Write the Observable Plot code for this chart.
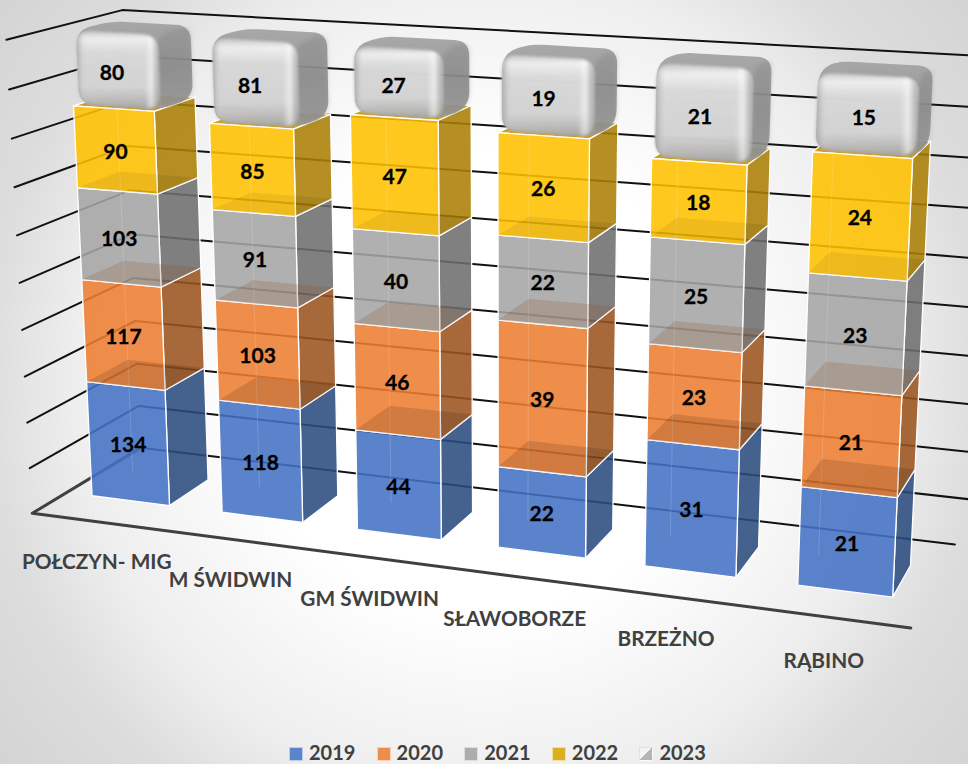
<!DOCTYPE html>
<html><head><meta charset="utf-8">
<script src="https://cdn.jsdelivr.net/npm/d3@7"></script>
<script src="https://cdn.jsdelivr.net/npm/@observablehq/plot@0.6"></script>
<style>
html,body{margin:0;padding:0;width:968px;height:764px;overflow:hidden;
background:radial-gradient(circle 640px at 484px 382px,#fff 0,#fff 36%,#eeeeee 64%,#dddddd 78%,#d2d2d2 100%);}
#legend{position:absolute;left:289px;top:740px;height:24px;display:flex;font:700 20px Lato,sans-serif;color:#404040;line-height:24px;}
#legend div{width:87.6px;display:flex;align-items:center;white-space:nowrap;}
#legend i{display:block;width:12px;height:12px;margin:4px 6px 0 0;border:1px solid rgba(255,255,255,.6);}
</style></head><body>
<div id="chart"></div><div id="legend"></div>
<script>
const categories=["POŁCZYN- MIG","M ŚWIDWIN","GM ŚWIDWIN","SŁAWOBORZE","BRZEŻNO","RĄBINO"];
const years=["2019","2020","2021","2022","2023"];
const v2019=[134,118,44,22,31,21];
const v2020=[117,103,46,39,23,21];
const v2021=[103,91,40,22,25,23];
const v2022=[90,85,47,26,18,24];
const v2023=[80,81,27,19,21,15];
const seriesValues=[v2019,v2020,v2021,v2022,v2023];
const frontColors=["#4472c4","#ed7d31","#a5a5a5","#ffc000"];
const sideColors=["#2b4c80","#9b531f","#6e6e6e","#ab8004"];
const legendColors=["#5b84cb","#ef8d4f","#adadad","#dcaf20","linear-gradient(135deg,#f4f4f4 0 50%,#b5b5b5 50% 100%)"];
const ticks=d3.range(0,1.01,0.1);

// 100% stacked boundaries per category
const stacks=categories.map((_,i)=>{
  const total=d3.sum(seriesValues,s=>s[i]);let c=0;
  return [0,...seriesValues.map(s=>(c+=s[i])/total)];
});

// Camera calibration: the chart's 3D box and column corners as seen in the picture.
const boxAnchors=[[0,0,0,32,513],[0,1,0,6,39],[0,0,1,140,446],[0,1,1,120,10],[6,0,1,953,545],[6,1,1,980,54],[6,0,0,910,628]];
// [column, stack boundary, front-left, front-right, back-right]
const barAnchors=[
 [0,0,[91,495],[168,504],[207,478]],[0,1,[86,382],[164,389],[204,367]],[0,3,[77,188],[157,193],[198,177]],[0,4,[73,106],[154,111],[195,97]],
 [1,0,[221,512],[301,521],[338,495]],[1,1,[218,401],[300,408],[337,385]],[1,4,[209,123],[293,128],[331,114]],
 [2,0,[356,530],[443,540],[473,517]],[2,4,[350,115],[438,120],[471,106]],
 [3,0,[497,546],[586,556],[613,528]],[3,4,[497,133],[589,138],[617,123]],
 [4,0,[644,565],[735,576],[758,545]],[4,1,[646,440],[739,449],[762,424]],[4,4,[651,158],[747,164],[769,148]],
 [5,0,[797,585],[892,597],[911,565]],[5,1,[801,487],[897,497],[914,469]],[5,4,[812,151],[912,157],[930,140]]
];
function solve(A,b){const n=b.length;
  for(let i=0;i<n;i++){let m=i;for(let r=i+1;r<n;r++)if(Math.abs(A[r][i])>Math.abs(A[m][i]))m=r;
    [A[i],A[m]]=[A[m],A[i]];[b[i],b[m]]=[b[m],b[i]];
    for(let r=i+1;r<n;r++){const f=A[r][i]/A[i][i];for(let c=i;c<n;c++)A[r][c]-=f*A[i][c];b[r]-=f*b[i];}}
  const x=Array(n).fill(0);for(let i=n-1;i>=0;i--){let s=b[i];for(let c=i+1;c<n;c++)s-=A[i][c]*x[c];x[i]=s/A[i][i];}return x;}
function anchors(g,w0,w1){const out=boxAnchors.map(a=>a.slice());
  for(const [c,k,fl,fr,br] of barAnchors){const v=stacks[c][k];
    out.push([c+g,v,w0,...fl],[c+1-g,v,w0,...fr],[c+1-g,v,w1,...br]);}
  return out;}
function fit(list){const A=d3.range(11).map(()=>Array(11).fill(0)),b=Array(11).fill(0);
  const add=(r,t)=>{for(let i=0;i<11;i++){b[i]+=r[i]*t;for(let j=0;j<11;j++)A[i][j]+=r[i]*r[j];}};
  for(const [X,Y,Z,px,py] of list){const x=px/1000,y=py/1000;
    add([X,Y,Z,1,0,0,0,0,-x*X,-x*Y,-x*Z],x);add([0,0,0,0,X,Y,Z,1,-y*X,-y*Y,-y*Z],y);}
  const p=solve(A,b);
  const proj=(X,Y,Z)=>{const d=p[8]*X+p[9]*Y+p[10]*Z+1;return [1000*(p[0]*X+p[1]*Y+p[2]*Z+p[3])/d,1000*(p[4]*X+p[5]*Y+p[6]*Z+p[7])/d];};
  let err=0;for(const [X,Y,Z,px,py] of list){const q=proj(X,Y,Z);err+=(q[0]-px)**2+(q[1]-py)**2;}
  return {proj,err};}
let best=null;
for(let g=.1;g<=.3;g+=.02)for(let w0=.2;w0<=.42;w0+=.02)for(let w1=.58;w1<=.86;w1+=.02){
  const f=fit(anchors(g,w0,w1));if(!best||f.err<best.err)best={...f,g,w0,w1};}
const {proj:P,g:gap,w0:W0,w1:W1}=best;

function rounded(pts,r){const out=[],n=pts.length;
  for(let i=0;i<n;i++){const p=pts[i],a=pts[(i+n-1)%n],b=pts[(i+1)%n];
    const la=Math.hypot(a[0]-p[0],a[1]-p[1]),lb=Math.hypot(b[0]-p[0],b[1]-p[1]);
    const ra=Math.min(r,la/2)/la,rb=Math.min(r,lb/2)/lb;
    const s=[p[0]+(a[0]-p[0])*ra,p[1]+(a[1]-p[1])*ra],e=[p[0]+(b[0]-p[0])*rb,p[1]+(b[1]-p[1])*rb];
    for(let t=0;t<=1.001;t+=.125){const u=1-t;out.push([u*u*s[0]+2*u*t*p[0]+t*t*e[0],u*u*s[1]+2*u*t*p[1]+t*t*e[1]]);}}
  return out;}
let pid=0;
const poly=(pts,extra)=>{const id=pid++;return pts.map(q=>({id,x:q[0],y:q[1],...extra}));};
function xy(q){return {x:q[0],y:q[1]};}

const gridRows=ticks.slice(1).flatMap((v,k)=>[[0,v,0],[0,v,1],[6.2,v,1]].map(q=>({id:k,...xy(P(...q))})));
const backFloor=[[0,0,1],[6,0,1]].map(q=>xy(P(...q)));
const leftFloor=[[0,0,1],[0,0,0],[6,0,0]].map(q=>xy(P(...q)));

const faces=[],bands=[],capBody=[],capSide=[],capFront=[],valueLabels=[],backEdges=[];
const bandFill=[null,"#000","#8a4a20","#000"],bandOp=[0,.125,.2,.065];
categories.forEach((_,i)=>{
  const u0=i+gap,u1=i+1-gap,st=stacks[i];
  for(let k=0;k<4;k++){
    const a=st[k],b=st[k+1];
    backEdges.push(...poly([P(u0,a,W1),P(u0,b,W1)],{}));
    if(k===3) faces.push(...poly([P(u0,b,W0),P(u1,b,W0),P(u1,b,W1),P(u0,b,W1)],{fill:"#c99a18",fo:.95}));
    faces.push(...poly([P(u1,a,W0),P(u1,a,W1),P(u1,b,W1),P(u1,b,W0)],{fill:sideColors[k],fo:.88}));
    faces.push(...poly([P(u0,a,W0),P(u1,a,W0),P(u1,b,W0),P(u0,b,W0)],{fill:frontColors[k],fo:.88}));
    if(k>0) bands.push(...poly([P(u0,a,W0),P(u1,a,W0),P(u1,a,W1),P(u0,a,W1)],{fill:bandFill[k],fo:bandOp[k]}));
    valueLabels.push({...xy(P((u0+u1)/2,(a+b)/2,W0)),t:seriesValues[k][i]});
  }
  const a=st[4],b=1,cw0=W0+.05,cw1=W1-.02;
  capBody.push(...poly(rounded([P(u0,a,cw0),P(u1,a,cw0),P(u1,a,cw1),P(u1,b,cw1),P(u0,b,cw1),P(u0,b,cw0)],15),{}));
  capSide.push(...poly(rounded([P(u1,a,cw0),P(u1,a,cw1),P(u1,b,cw1),P(u1,b,cw0)],12),{}));
  capFront.push(...poly(rounded([P(u0,a,cw0),P(u1,a,cw0),P(u1,b,cw0),P(u0,b,cw0)],16),{}));
  valueLabels.push({...xy(P((u0+u1)/2,(a+b)/2,W0)),t:seriesValues[4][i]});
});
const catLabels=categories.map((t,i)=>({...xy(P(i+.48,-.09,0)),t}));

const defs=()=>{const d=d3.create("svg:defs");
  const grad=(id,x2,y2,stops)=>{const g=d.append("linearGradient").attr("id",id).attr("x1",0).attr("y1",0).attr("x2",x2).attr("y2",y2);
    stops.forEach(([o,c,a])=>g.append("stop").attr("offset",o).attr("stop-color",c).attr("stop-opacity",a));};
  grad("capB",0,1,[[0,"#a4a4a4",.96],[.5,"#929292",.92],[1,"#9c9c9c",.9]]);
  grad("capV",0,1,[[0,"#c8c8c8",.95],[.1,"#f6f6f6",.92],[.28,"#e2e2e2",.85],[.72,"#dddddd",.82],[.88,"#c0c0c0",.82],[1,"#a2a2a2",.85]]);
  grad("capH",1,0,[[0,"#999999",.75],[.1,"#dddddd",.1],[.82,"#eeeeee",.05],[.9,"#ffffff",.55],[.97,"#b0b0b0",.7],[1,"#a0a0a0",.8]]);
  return d.node();};

const chart=Plot.plot({
  width:968,height:740,margin:0,
  x:{type:"identity",axis:null},y:{type:"identity",axis:null},
  style:{background:"transparent",overflow:"hidden"},
  marks:[
    defs,
    Plot.line(gridRows,{x:"x",y:"y",z:"id",stroke:"#111",strokeWidth:2}),
    Plot.line(backFloor,{x:"x",y:"y",stroke:"#111",strokeWidth:2}),
    Plot.line(leftFloor,{x:"x",y:"y",stroke:"#404040",strokeWidth:3}),
    Plot.line(faces,{x:"x",y:"y",z:"id",fill:"fill",fillOpacity:"fo",stroke:"#fff",strokeWidth:1.3,curve:"linear-closed"}),
    Plot.line(backEdges,{x:"x",y:"y",z:"id",stroke:"#fff",strokeOpacity:.15,strokeWidth:1}),
    Plot.line(bands,{x:"x",y:"y",z:"id",fill:"fill",fillOpacity:"fo",curve:"linear-closed"}),
    Plot.line(capBody,{x:"x",y:"y",z:"id",fill:"url(#capB)",curve:"linear-closed",imageFilter:"blur(0.7px)"}),
    Plot.line(capSide,{x:"x",y:"y",z:"id",fill:"#7c7c7c",fillOpacity:.3,curve:"linear-closed",imageFilter:"blur(2px)"}),
    Plot.line(capFront,{x:"x",y:"y",z:"id",fill:"url(#capV)",curve:"linear-closed",imageFilter:"blur(1.6px)"}),
    Plot.line(capFront,{x:"x",y:"y",z:"id",fill:"url(#capH)",curve:"linear-closed",imageFilter:"blur(1.6px)"}),
    Plot.text(valueLabels,{x:"x",y:"y",dy:2,text:"t",fontFamily:"Lato",fontWeight:700,fontSize:21,fill:"#000",stroke:"#000",strokeWidth:.3}),
    Plot.text(catLabels,{x:"x",y:"y",text:"t",fontFamily:"Lato",fontWeight:700,fontSize:20.8,fill:"#404040"})
  ]
});
document.getElementById("chart").append(chart);
d3.select("#legend").selectAll("div").data(years).join("div")
  .html((y,i)=>`<i style="background:${legendColors[i]}"></i>${y}`);
</script></body></html>
